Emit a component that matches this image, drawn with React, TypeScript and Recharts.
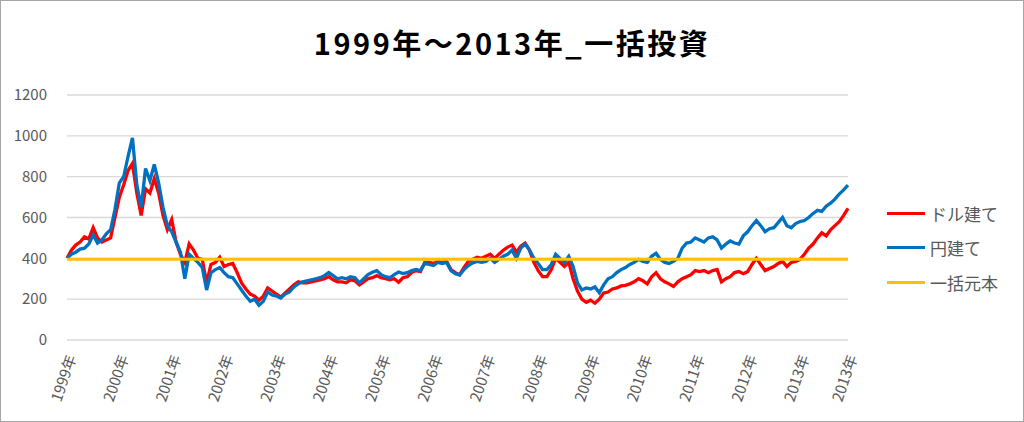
import React from "react";
import { LineChart, Line, XAxis, YAxis, CartesianGrid } from "recharts";

// monthly values, 1999-01 ... 2013-12
const usdValues: number[] = [
  400, 440, 465, 480, 505, 495, 550, 500, 480, 490, 500, 600,
  700, 760, 830, 865, 720, 610, 740, 720, 790, 720, 610, 540,
  590, 480, 420, 380, 470, 440, 400, 395, 280, 370, 380, 405,
  360, 370, 375, 330, 280, 250, 225, 215, 195, 215, 255, 240,
  225, 210, 230, 250, 270, 285, 280, 280, 285, 290, 295, 300,
  310, 295, 285, 285, 280, 295, 290, 270, 285, 300, 305, 315,
  305, 300, 295, 300, 283, 305, 310, 330, 340, 335, 380, 380,
  375, 385, 380, 385, 345, 330, 320, 355, 385, 395, 405, 400,
  410, 420, 400, 420, 440, 455, 465, 430, 460, 475, 440, 380,
  340, 310, 310, 345, 400, 380, 360, 380, 300, 240, 200, 185,
  195, 180, 200, 230, 235, 250, 255, 265, 268, 275, 285, 300,
  290, 275, 310, 330, 300, 285, 275, 262, 285, 300, 310, 320,
  340, 335, 340, 330, 340, 345, 285, 300, 310, 330, 335, 325,
  335, 370, 400, 370, 340, 350, 360, 375, 385, 360, 380, 385,
  395, 420, 450, 470, 500, 525, 510, 540, 560, 580, 610, 645,
];

const jpyValues: number[] = [
  400, 420, 430, 445, 450, 470, 515, 475, 490, 520, 540, 640,
  770, 800, 900, 990, 760, 650, 840, 780, 860, 770, 650, 560,
  530, 480, 430, 300, 420, 400, 380, 355, 245, 330, 345, 355,
  330, 310, 305, 275, 245, 215, 190, 200, 170, 190, 235, 220,
  215, 205, 225, 235, 260, 275, 285, 290, 295, 300, 305, 315,
  330, 315, 300, 305, 300, 310, 305, 280, 300, 320, 332, 340,
  320, 310, 305, 320, 333, 325, 330, 340, 345, 340, 375, 370,
  365, 380, 375, 380, 340, 325, 318, 345, 365, 378, 385, 380,
  385, 400, 380, 395, 410, 420, 440, 400, 450, 470, 440, 400,
  375, 345, 345, 370, 420, 400, 380, 410, 360, 280, 245, 255,
  250, 260, 232, 270, 300, 310, 330, 345, 355, 370, 380, 395,
  385, 380, 410, 425, 395, 380, 375, 385, 400, 450, 475, 480,
  500, 490, 480, 500, 505, 490, 450, 470, 485, 475, 470, 510,
  530, 560, 585, 560, 530, 545, 550, 575, 600, 560, 550, 570,
  580, 585, 600, 620, 635, 630, 655, 670, 690, 715, 735, 758,
];

const principal = 395;

const startYear = 1999;
const endYear = 2013;
const months: string[] = [];
for (let y = startYear; y <= endYear; y++) {
  for (let m = 1; m <= 12; m++) months.push(`${y}-${String(m).padStart(2, "0")}`);
}

const tickMonths: string[] = [
  "1999-01", "2000-01", "2001-01", "2002-01", "2003-01", "2004-01", "2005-01", "2006-01",
  "2007-01", "2008-01", "2009-01", "2010-01", "2011-01", "2012-01", "2013-01", "2013-12",
];
const tickLabels: string[] = [
  "1999年", "2000年", "2001年", "2002年", "2003年", "2004年", "2005年", "2006年",
  "2007年", "2008年", "2009年", "2010年", "2011年", "2012年", "2013年", "2013年",
];
const yTicks = [0, 200, 400, 600, 800, 1000, 1200];

const seriesNames = ["ドル建て", "円建て", "一括元本"];
const seriesColors = ["#FF0000", "#0070C0", "#FFC000"];

const data = months.map((m, i) => ({ month: m, usd: usdValues[i], jpy: jpyValues[i] }));

const FONT = "'Noto Sans CJK JP', 'Noto Sans', sans-serif";

const XTick = (props: any) => {
  const { x, y, payload } = props;
  const idx = tickMonths.indexOf(payload.value);
  const label = idx >= 0 ? tickLabels[idx] : "";
  return (
    <g transform={`translate(${x + 3.5},${y + 7})`}>
      <text
        x={0}
        y={0}
        textAnchor="end"
        dominantBaseline="central"
        transform="rotate(-71)"
        fontSize={15}
        fill="#595959"
        fontFamily={FONT}
      >
        {label}
      </text>
    </g>
  );
};

export default function App() {
  return (
    <div
      style={{
        position: "absolute",
        left: 0,
        top: 0,
        width: 1024,
        height: 422,
        boxSizing: "border-box",
        border: "1px solid #a6a6a6",
        background: "#fff",
        overflow: "hidden",
      }}
    >
      <div
        style={{
          position: "absolute",
          left: 0,
          top: 21,
          width: 1022,
          textAlign: "center",
          fontFamily: FONT,
          fontWeight: 700,
          fontSize: 29,
          letterSpacing: 2.5,
          lineHeight: "40px",
          color: "#000",
        }}
      >
        1999年～2013年_一括投資
      </div>
      <div style={{ position: "absolute", left: -1, top: -1 }}>
        <LineChart width={1024} height={422} data={data} margin={{ top: 95, right: 176, bottom: 42, left: 0 }}>
          <CartesianGrid vertical={false} stroke="#d9d9d9" strokeWidth={1.3} />
          <XAxis
            dataKey="month"
            ticks={tickMonths}
            interval={0}
            axisLine={false}
            tickLine={false}
            height={40}
            tick={<XTick />}
          />
          <YAxis
            domain={[0, 1200]}
            ticks={yTicks}
            width={67}
            axisLine={false}
            tickLine={false}
            tickMargin={14}
            tick={{ fontSize: 15, fill: "#595959", fontFamily: FONT }}
          />
          <Line
            type="linear"
            dataKey="usd"
            name={seriesNames[0]}
            stroke={seriesColors[0]}
            strokeWidth={3.3}
            dot={false}
            isAnimationActive={false}
          />
          <Line
            type="linear"
            dataKey="jpy"
            name={seriesNames[1]}
            stroke={seriesColors[1]}
            strokeWidth={3.3}
            dot={false}
            isAnimationActive={false}
          />
          <Line
            type="linear"
            dataKey={() => principal}
            name={seriesNames[2]}
            stroke={seriesColors[2]}
            strokeWidth={3}
            dot={false}
            isAnimationActive={false}
          />
        </LineChart>
      </div>
      <div style={{ position: "absolute", left: 886, top: 195, fontFamily: FONT }}>
        {seriesNames.map((n, i) => (
          <div key={n} style={{ display: "flex", alignItems: "center", height: 34.5 }}>
            <div style={{ width: 38, height: 3, background: seriesColors[i], marginRight: 5 }} />
            <span style={{ fontSize: 17, color: "#595959" }}>{n}</span>
          </div>
        ))}
      </div>
    </div>
  );
}
